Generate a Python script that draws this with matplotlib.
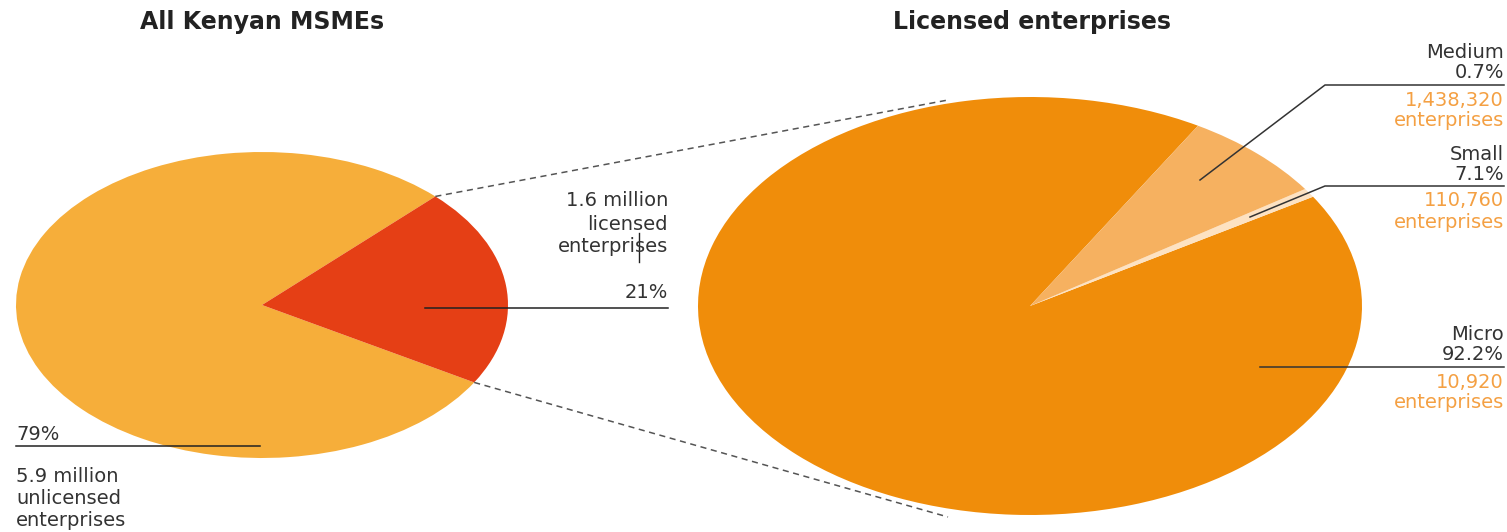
import numpy as np
import matplotlib
matplotlib.use("Agg")
import matplotlib.pyplot as plt

# data
left_labels = ["unlicensed", "licensed"]
left_shares = [79, 21]
right_labels = ["Micro", "Small", "Medium"]
right_shares = [92.2, 0.7, 7.1]

left_colors = ["#F6AE3A", "#E53F15"]
right_colors = ["#F08D0A", "#FDE2C2", "#F6B160"]

W, H = 1507, 532
DARK = "#333333"
ORANGE = "#F4A043"
FONT = "DejaVu Sans"

fig = plt.figure(figsize=(W / 100, H / 100), dpi=100)


def pie_axes(cx, cy, rx, ry):
    ax = fig.add_axes([(cx - rx) / W, (H - cy - ry) / H, 2 * rx / W, 2 * ry / H])
    return ax


def to_px(cx, cy, rx, ry, ang, r=1.0):
    a = np.deg2rad(ang)
    return cx + r * rx * np.cos(a), cy - r * ry * np.sin(a)


# left pie
L = (262, 305, 246, 153)
axl = pie_axes(*L)
l_start = 45.2
axl.pie(left_shares, colors=left_colors, startangle=l_start, counterclock=True,
        radius=1, wedgeprops=dict(linewidth=0))
axl.set_aspect("auto")
axl.set_xlim(-1, 1)
axl.set_ylim(-1, 1)
axl.axis("off")

# right pie
R = (1030, 306, 332, 209)
axr = pie_axes(*R)
r_start = 59.6
axr.pie(right_shares, colors=right_colors, startangle=r_start, counterclock=True,
        radius=1, wedgeprops=dict(linewidth=0))
axr.set_aspect("auto")
axr.set_xlim(-1, 1)
axr.set_ylim(-1, 1)
axr.axis("off")

# overlay axes in pixel coordinates for lines and text, drawn above the pies
ov = fig.add_axes([0, 0, 1, 1], zorder=10)
ov.patch.set_visible(False)
ov.set_xlim(0, W)
ov.set_ylim(H, 0)
ov.axis("off")

# dashed connectors between the red wedge and the right pie
red_a1 = l_start
red_a0 = l_start - left_shares[1] / 100 * 360
p1 = to_px(*L, red_a1)
p0 = to_px(*L, red_a0)
ov.plot([p1[0], 948], [p1[1], 100], ls=(0, (4, 3)), color="#555555", lw=1.1)
ov.plot([p0[0], 948], [p0[1], 517], ls=(0, (4, 3)), color="#555555", lw=1.1)

# titles
ov.text(262, 22, "All Kenyan MSMEs", ha="center", va="center", fontsize=17,
        fontweight="bold", color="#222222", family=FONT)
ov.text(1032, 22, "Licensed enterprises", ha="center", va="center", fontsize=17,
        fontweight="bold", color="#222222", family=FONT)

fs = 14

# left annotations
ov.plot([425, 668], [308, 308], color="#222222", lw=1.1)
ov.text(668, 298, f"{left_shares[1]}%", ha="right", va="baseline", fontsize=fs,
        color=DARK, family=FONT)
ov.text(668, 201, "1.6 million", ha="right", va="center", fontsize=fs, color=DARK, family=FONT)
ov.text(668, 224, "licensed", ha="right", va="center", fontsize=fs, color=DARK, family=FONT)
ov.text(668, 246, "enterprises", ha="right", va="center", fontsize=fs, color=DARK, family=FONT)
ov.plot([639, 639], [233, 262], color="#222222", lw=1)

ov.plot([16, 260], [446, 446], color="#222222", lw=1.1)
ov.text(16, 440, f"{left_shares[0]}%", ha="left", va="baseline", fontsize=fs,
        color=DARK, family=FONT)
ov.text(16, 477, "5.9 million", ha="left", va="center", fontsize=fs, color=DARK, family=FONT)
ov.text(16, 499, "unlicensed", ha="left", va="center", fontsize=fs, color=DARK, family=FONT)
ov.text(16, 521, "enterprises", ha="left", va="center", fontsize=fs, color=DARK, family=FONT)

# right annotations
xr = 1504
ov.plot([1200, 1325, xr], [180, 85, 85], color="#333333", lw=1.1)
ov.text(xr, 52, "Medium", ha="right", va="center", fontsize=fs, color=DARK, family=FONT)
ov.text(xr, 73, f"{right_shares[1]}%", ha="right", va="center", fontsize=fs, color=DARK, family=FONT)
ov.text(xr, 100, "1,438,320", ha="right", va="center", fontsize=fs, color=ORANGE, family=FONT)
ov.text(xr, 121, "enterprises", ha="right", va="center", fontsize=fs, color=ORANGE, family=FONT)

ov.plot([1250, 1325, xr], [217, 186, 186], color="#333333", lw=1.1)
ov.text(xr, 154, "Small", ha="right", va="center", fontsize=fs, color=DARK, family=FONT)
ov.text(xr, 175, f"{right_shares[2]}%", ha="right", va="center", fontsize=fs, color=DARK, family=FONT)
ov.text(xr, 201, "110,760", ha="right", va="center", fontsize=fs, color=ORANGE, family=FONT)
ov.text(xr, 222, "enterprises", ha="right", va="center", fontsize=fs, color=ORANGE, family=FONT)

ov.plot([1260, xr], [367, 367], color="#333333", lw=1.1)
ov.text(xr, 334, "Micro", ha="right", va="center", fontsize=fs, color=DARK, family=FONT)
ov.text(xr, 355, f"{right_shares[0]}%", ha="right", va="center", fontsize=fs, color=DARK, family=FONT)
ov.text(xr, 382, "10,920", ha="right", va="center", fontsize=fs, color=ORANGE, family=FONT)
ov.text(xr, 403, "enterprises", ha="right", va="center", fontsize=fs, color=ORANGE, family=FONT)

fig.savefig("out.png", dpi=100)
